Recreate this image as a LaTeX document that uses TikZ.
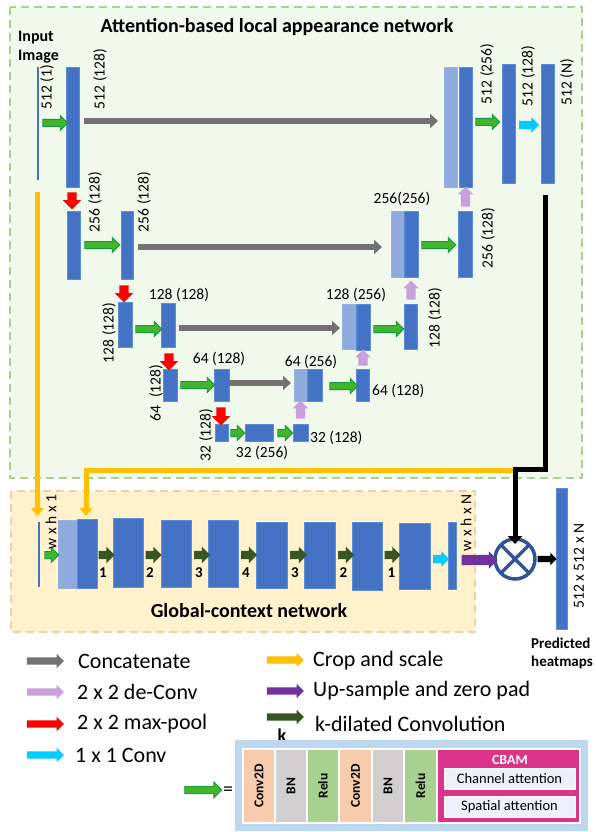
\documentclass[tikz,border=0pt]{standalone}
\usepackage{fontspec}
\setmainfont{Carlito}
\usetikzlibrary{shapes.arrows,arrows.meta}
\definecolor{bfill}{HTML}{4472C4}
\definecolor{bdraw}{HTML}{5E8FD6}
\definecolor{lfill}{HTML}{8FAADC}
\definecolor{cgray}{HTML}{767171}
\definecolor{gfill}{RGB}{65,182,45}
\definecolor{gdraw}{RGB}{22,150,65}
\definecolor{lav}{RGB}{202,160,220}
\definecolor{cyanx}{RGB}{0,204,255}
\definecolor{orng}{HTML}{FFC000}
\definecolor{purp}{HTML}{7030A0}
\definecolor{dgreen}{HTML}{375623}
\definecolor{cblue}{HTML}{2F5597}
\definecolor{gbox}{HTML}{F1F8EC}
\definecolor{gboxd}{HTML}{A9D18E}
\definecolor{obox}{HTML}{FFF2CC}
\definecolor{oboxd}{HTML}{F8CBAD}
\definecolor{cbout}{HTML}{BDD7EE}
\definecolor{convc}{HTML}{F8CBAD}
\definecolor{bnc}{HTML}{D0CECE}
\definecolor{reluc}{HTML}{A9D18E}
\definecolor{cbamc}{RGB}{219,51,138}
\definecolor{attc}{HTML}{EEF0FB}
\newcommand\blkn[6]{\node[#2,minimum width={#5-#3},minimum height={#6-#4}] (#1) at ({(#3+#5)/2},{(#4+#6)/2}) {};}
\tikzset{
  bb/.style={rectangle,draw=bdraw,fill=bfill,line width=0.6pt,inner sep=0pt,outer sep=0pt},
  lb/.style={rectangle,draw=lfill!90!white,fill=lfill,line width=0.6pt,inner sep=0pt,outer sep=0pt},
  thinb/.style={rectangle,fill=bfill,inner sep=0pt,outer sep=0pt},
  arbase/.style={single arrow,inner xsep=0pt,outer sep=0pt},
  garr/.style={arbase,fill=gfill,draw=gdraw,line width=0.8pt,inner ysep=3.2pt,minimum width=15pt,single arrow head extend=4pt},
  rarr/.style={arbase,fill=red,inner ysep=4.5pt,minimum width=18pt,single arrow head extend=4.5pt,rotate=-90},
  larr/.style={arbase,fill=lav,inner ysep=4.5pt,minimum width=15pt,single arrow head extend=3pt,rotate=90},
  carr/.style={arbase,fill=cyanx,inner ysep=4pt,minimum width=15pt,single arrow head extend=3.5pt},
  dgarr/.style={arbase,fill=dgreen,inner ysep=4pt,minimum width=16pt,single arrow head extend=4pt,minimum height=16pt},
  parr/.style={arbase,fill=purp,inner ysep=5pt,minimum width=16pt,single arrow head extend=3.5pt},
  karr/.style={arbase,fill=black,inner ysep=3pt,minimum width=12pt,single arrow head extend=3pt},
  legarr/.style={arbase,inner ysep=3.5pt,minimum width=13pt,single arrow head extend=3.5pt,minimum height=37pt},
  concat/.style={draw=cgray,line width=6pt,-{Triangle[length=8pt,width=14pt]}},
  orline/.style={draw=orng,line width=5pt,line join=miter,-{Triangle[length=8pt,width=13pt]}},
  kline/.style={draw=black,line width=5pt,line join=miter,-{Triangle[length=8pt,width=14pt]}},
  lab/.style={font=\fontsize{15.5}{16}\selectfont,inner sep=0pt},
  rlab/.style={lab,rotate=90},
  bold/.style={font=\fontsize{#1}{#1}\selectfont\bfseries,inner sep=0pt},
  leg/.style={font=\fontsize{22}{22}\selectfont,inner sep=0pt,anchor=west},
  cell/.style={rectangle,draw=white,line width=1.2pt,inner sep=0pt,outer sep=0pt},
  celltxt/.style={font=\fontsize{13.5}{14}\selectfont\bfseries,rotate=90,inner sep=0pt},
  attbox/.style={rectangle,fill=attc,draw=white,line width=0.6pt,inner sep=0pt,outer sep=0pt,font=\fontsize{14.5}{15}\selectfont}
}
\begin{document}
\begin{tikzpicture}[x=1pt,y=-1pt]
\useasboundingbox (0,0) rectangle (595,832);
% background boxes
\draw[fill=gbox,draw=gboxd,line width=1.5pt,dash pattern=on 8pt off 5pt] (10,7) rectangle (582,478);
\draw[fill=obox,draw=oboxd,line width=1.5pt,dash pattern=on 8pt off 5pt] (11,491) rectangle (475,632);
\node[bold=20] (title) at (277,27) {Attention-based local appearance network};
\node[bold=16,anchor=west] (inp1) at (18,38) {Input};
\node[bold=16,anchor=west] (inp2) at (18,57) {Image};
\node[bold=20] (gtitle) at (249,611) {Global-context network};

% ---------- local network blocks ----------
\blkn{in1}{thinb}{36.8}{67}{38.6}{180}
\blkn{b1}{bb}{66}{67}{79}{187}
\blkn{t1a}{lb}{444}{67}{457}{187}
\blkn{t1b}{bb}{459}{67}{472}{187}
\blkn{t2}{bb}{502}{64}{515}{183}
\blkn{t3}{bb}{541}{64}{554}{183}
\blkn{b2a}{bb}{67}{211}{80}{279}
\blkn{b2b}{bb}{121}{211}{133}{279}
\blkn{t4a}{lb}{391}{211}{404}{277}
\blkn{t4b}{bb}{404}{211}{418}{277}
\blkn{t5}{bb}{458}{211}{472}{277}
\blkn{b3a}{bb}{118}{302}{132}{347}
\blkn{b3b}{bb}{161}{303}{175}{347}
\blkn{t6a}{lb}{342}{304}{356}{349}
\blkn{t6b}{bb}{356}{304}{370}{350}
\blkn{t7}{bb}{404}{304}{417}{349}
\blkn{b4a}{bb}{163}{369}{177}{401}
\blkn{b4b}{bb}{214}{369}{229}{401}
\blkn{t8a}{lb}{294}{369}{307}{401}
\blkn{t8b}{bb}{307}{369}{322}{401}
\blkn{t9}{bb}{356}{369}{369}{401}
\blkn{b5a}{bb}{215}{424}{228}{441}
\blkn{b5b}{bb}{245}{424}{273}{441}
\blkn{b5c}{bb}{293}{424}{308}{441}

% concatenate arrows
\draw[concat] (84,121) -- (438,121);
\draw[concat] (138,247) -- (382,247);
\draw[concat] (179,328) -- (340,328);
\draw[concat] (229,383) -- (291,383);

% green conv arrows
\node[garr,minimum height=25pt] (ga1) at (53.5,123) {};
\node[garr,minimum height=24pt] (ga2) at (486,122) {};
\node[garr,minimum height=35pt] (ga3) at (100.5,245) {};
\node[garr,minimum height=34pt] (ga4) at (437,245) {};
\node[garr,minimum height=26pt] (ga5) at (147,329) {};
\node[garr,minimum height=30pt] (ga6) at (387,329) {};
\node[garr,minimum height=34pt] (ga7) at (196,385) {};
\node[garr,minimum height=28pt] (ga8) at (342,386) {};
\node[garr,minimum height=14pt,minimum width=14pt] (ga9) at (236,433) {};
\node[garr,minimum height=15pt,minimum width=14pt] (ga10) at (283.5,433) {};
\node[carr,minimum height=20pt] (ca1) at (527,125) {};
% max-pool arrows
\node[rarr,minimum height=17pt] (ra1) at (72,198.5) {};
\node[rarr,minimum height=17pt] (ra2) at (124,291.5) {};
\node[rarr,minimum height=17pt] (ra3) at (169,359.5) {};
\node[rarr,minimum height=18pt] (ra4) at (221,414) {};
% de-conv arrows
\node[larr,minimum height=20pt] (la1) at (465.5,199) {};
\node[larr,minimum height=19pt] (la2) at (411,292.5) {};
\node[larr,minimum height=16pt] (la3) at (363,360) {};
\node[larr,minimum height=18pt] (la4) at (300.5,412) {};

% labels local
\node[rlab] (l1) at (47,87) {512 (1)};
\node[rlab] (l2) at (100,79) {512 (128)};
\node[rlab] (l3) at (487,74) {512 (256)};
\node[rlab] (l4) at (528,76) {512 (128)};
\node[rlab] (l5) at (567,82) {512 (N)};
\node[rlab] (l6) at (95,202) {256 (128)};
\node[rlab] (l7) at (144,202) {256 (128)};
\node[lab] (l8) at (402,199) {256(256)};
\node[rlab] (l9) at (488,238) {256 (128)};
\node[rlab] (l10) at (109,333) {128 (128)};
\node[lab] (l11) at (179,295) {128 (128)};
\node[lab] (l12) at (356,295) {128 (256)};
\node[rlab] (l13) at (435,318) {128 (128)};
\node[rlab] (l14) at (156,393) {64\enspace(128)};
\node[lab] (l15) at (219,359) {64 (128)};
\node[lab] (l16) at (311,362) {64 (256)};
\node[lab,anchor=west] (l17) at (372,391) {64 (128)};
\node[rlab] (l18) at (206,435) {32 (128)};
\node[lab] (l19) at (262,453) {32 (256)};
\node[lab,anchor=west] (l20) at (310,438) {32 (128)};

% ---------- global network ----------
\blkn{g0}{thinb}{38}{522}{40}{587}
\blkn{g1a}{lb}{58}{520}{77}{588}
\blkn{g1b}{bb}{77}{519}{97}{588}
\blkn{g2}{bb}{113}{518}{143}{587}
\blkn{g3}{bb}{161}{520}{191}{587}
\blkn{g4}{bb}{208}{520}{238}{587}
\blkn{g5}{bb}{256}{522}{287}{588}
\blkn{g6}{bb}{304}{522}{335}{588}
\blkn{g7}{bb}{352}{522}{382}{590}
\blkn{g8}{bb}{399}{523}{430}{589}
\blkn{g9}{bb}{448}{522}{456}{589}
\blkn{outb}{bb}{556}{488}{567}{629}
\node[circle,draw=cblue,fill=white,line width=3.5pt,minimum size=40pt,inner sep=0pt,outer sep=0pt] (mul) at (515,559) {};
\draw[cblue,line width=3.5pt] (mul.north east) -- (mul.south west) (mul.north west) -- (mul.south east);

% crop lines and heatmap line
\draw[orline] (513,470) -- (86,470) -- (86,516);
\draw[orline] (37.5,192) -- (37.5,516);
\draw[kline] (545,195) -- (545,469) -- (515,469) -- ([yshift=-5pt]mul.north);

\node[garr,minimum height=14pt] (gg0) at (50,555) {};
\node[dgarr] (d1) at (104.5,555) {};
\node[dgarr] (d2) at (151.5,555) {};
\node[dgarr] (d3) at (200,555) {};
\node[dgarr] (d4) at (247,555) {};
\node[dgarr,minimum height=17pt] (d5) at (296.5,555) {};
\node[dgarr] (d6) at (344,555) {};
\node[dgarr] (d7) at (390.5,555) {};
\node[bold=15] at (103,573) {1};
\node[bold=15] at (150,573) {2};
\node[bold=15] at (199,573) {3};
\node[bold=15] at (246,573) {4};
\node[bold=15] at (295,573) {3};
\node[bold=15] at (343.5,573) {2};
\node[bold=15] at (391.5,573) {1};
\node[carr,minimum height=16pt] (ca2) at (439,559) {};
\node[parr,minimum height=36pt] (pa1) at (477,560) {};
\node[karr,minimum height=19pt] (ka1) at (545.5,559) {};
\node[rlab] (gl1) at (51,522) {w x h x 1};
\node[rlab] (gl2) at (466,523) {w x h x N};
\node[rlab] (gl3) at (579,566) {512 x 512 x N};
\node[bold=15,anchor=west] (pr1) at (531,643) {Predicted};
\node[bold=15,anchor=west] (pr2) at (531,662) {heatmaps};

% ---------- legend ----------
\node[legarr,fill=cgray] (lg1) at (43.5,661) {};
\node[legarr,fill=lav] (lg2) at (43.5,692) {};
\node[legarr,fill=red] (lg3) at (43.5,724) {};
\node[legarr,fill=cyanx] (lg4) at (43.5,755) {};
\node[legarr,fill=orng] (lg5) at (283.5,660) {};
\node[legarr,fill=purp] (lg6) at (283.5,691) {};
\node[legarr,fill=dgreen] (lg7) at (283.5,717) {};
\node[leg] (lt1) at (78,661) {Concatenate};
\node[leg] (lt2) at (77,692) {2 x 2 de-Conv};
\node[leg] (lt3) at (77,724) {2 x 2 max-pool};
\node[leg] (lt4) at (75,755) {1 x 1 Conv};
\node[leg] (lt5) at (313,661) {Crop and scale};
\node[leg] (lt6) at (313,691) {Up-sample and zero pad};
\node[leg] (lt7) at (315,724) {k-dilated Convolution};
\node[bold=18] (kk) at (282,735) {k};

% CBAM block
\draw[fill=cbout,draw=none] (235,740) rectangle (588,831);
\blkn{c1}{cell,fill=convc}{243}{749}{275}{823}
\blkn{c2}{cell,fill=bnc}{275}{749}{307}{823}
\blkn{c3}{cell,fill=reluc}{307}{749}{339}{823}
\blkn{c4}{cell,fill=convc}{339}{749}{372}{823}
\blkn{c5}{cell,fill=bnc}{372}{749}{404}{823}
\blkn{c6}{cell,fill=reluc}{404}{749}{437}{823}
\blkn{c7}{cell,fill=cbamc}{437}{749}{580}{823}
\node[celltxt] at (c1) {Conv2D};
\node[celltxt] at (c2) {BN};
\node[celltxt] at (c3) {Relu};
\node[celltxt] at (c4) {Conv2D};
\node[celltxt] at (c5) {BN};
\node[celltxt] at (c6) {Relu};
\node[bold=14,text=white] (cbt) at (510,760) {CBAM};
\node[attbox,minimum width=131pt,minimum height=21pt] (ch) at (509.5,778.5) {Channel attention};
\node[attbox,minimum width=131pt,minimum height=21pt] (sp) at (509.5,806.5) {Spatial attention};
\node[garr,minimum height=37pt,minimum width=16pt] (geq) at (201.5,790) {};
\node[font=\fontsize{20}{20}\selectfont,inner sep=0pt] (eq) at (228,791) {=};
\end{tikzpicture}
\end{document}
